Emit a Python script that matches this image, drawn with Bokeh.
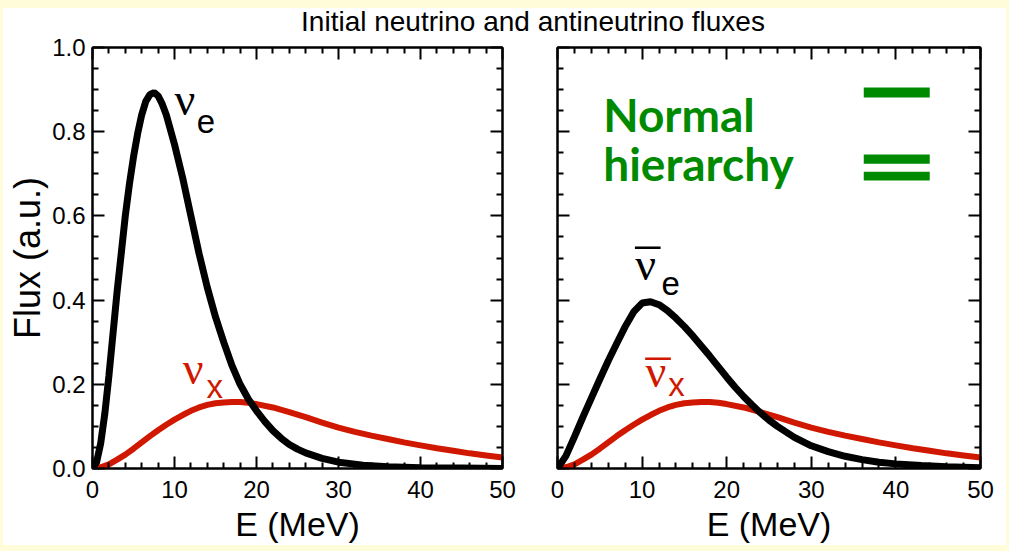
from bokeh.plotting import figure
from bokeh.models import LinearAxis, Range1d, Label, Div, FixedTicker, BoxAnnotation
from bokeh.layouts import row, column
from bokeh.embed import file_html
from bokeh.resources import INLINE

# ---------------- data ----------------
energy_nue = [0, 0.5, 1, 1.5, 2, 2.5, 3, 3.5, 4, 4.5, 5, 5.5, 6, 6.5, 7, 7.5, 8, 8.5, 9, 10, 11, 12, 13,
              14, 15, 16, 17, 18, 19, 20, 21, 22, 23, 24, 25, 26, 28, 30, 33, 36, 40, 45, 50]
flux_nue = [0, 0.015, 0.06, 0.13, 0.22, 0.32, 0.42, 0.51, 0.60, 0.675, 0.74, 0.795, 0.84, 0.872, 0.888, 0.893,
            0.885, 0.866, 0.84, 0.77, 0.69, 0.60, 0.51, 0.43, 0.36, 0.30, 0.245, 0.20, 0.165, 0.137, 0.112,
            0.09, 0.072, 0.057, 0.046, 0.037, 0.024, 0.015, 0.008, 0.004, 0.002, 0.001, 0.0]

energy_nux = [0, 1, 2, 3, 4, 5, 6, 7, 8, 9, 10, 11, 12, 13, 14, 15, 16, 17, 18, 19, 20, 22, 24, 26, 28,
              30, 32, 34, 36, 38, 40, 42, 44, 46, 48, 50]
flux_nux = [0, 0.003, 0.01, 0.021, 0.033, 0.047, 0.062, 0.077, 0.091, 0.104, 0.116, 0.127, 0.137, 0.145,
            0.151, 0.155, 0.157, 0.158, 0.158, 0.156, 0.153, 0.145, 0.134, 0.122, 0.109, 0.097, 0.087,
            0.078, 0.070, 0.062, 0.055, 0.048, 0.042, 0.036, 0.031, 0.026]

energy_nuebar = [0, 1, 2, 3, 4, 5, 6, 7, 8, 9, 10, 11, 12, 13, 14, 15, 16, 17, 18, 19, 20, 21, 22, 23,
                 24, 25, 26, 28, 30, 32, 34, 36, 38, 40, 43, 46, 50]
flux_nuebar = [0, 0.03, 0.075, 0.122, 0.167, 0.212, 0.256, 0.297, 0.337, 0.372, 0.393, 0.396, 0.389, 0.375,
               0.357, 0.337, 0.315, 0.291, 0.267, 0.242, 0.217, 0.193, 0.171, 0.151, 0.132, 0.115, 0.1,
               0.074, 0.054, 0.04, 0.029, 0.021, 0.015, 0.011, 0.007, 0.004, 0.002]

x_ticks = [0, 10, 20, 30, 40, 50]
x_minor = [2, 4, 6, 8, 12, 14, 16, 18, 22, 24, 26, 28, 32, 34, 36, 38, 42, 44, 46, 48]
y_ticks = [0.0, 0.2, 0.4, 0.6, 0.8, 1.0]
y_minor = [0.05, 0.1, 0.15, 0.25, 0.3, 0.35, 0.45, 0.5, 0.55, 0.65, 0.7, 0.75, 0.85, 0.9, 0.95]
y_tick_labels = ["0.0", "0.2", "0.4", "0.6", "0.8", "1.0"]

title_text = "Initial neutrino and antineutrino fluxes"
x_label = "E (MeV)"
y_label = "Flux (a.u.)"
legend_lines = ["Normal", "hierarchy"]

BLACK = "#000000"
RED = "#D01800"
GREEN = "#008A00"
FRAME_YELLOW = "#FFFCDA"
SANS = "Liberation Sans"
SERIF = "Liberation Serif"
FIG_H = 517


def style_axis(ax, ticks, minor, labels=True, standoff=7):
    ax.ticker = FixedTicker(ticks=ticks, minor_ticks=minor)
    ax.major_tick_in = 12
    ax.major_tick_out = 0
    ax.minor_tick_in = 6
    ax.minor_tick_out = 0
    ax.major_tick_line_width = 2
    ax.minor_tick_line_width = 2
    ax.axis_line_width = 2
    ax.major_tick_line_color = BLACK
    ax.minor_tick_line_color = BLACK
    ax.axis_line_color = BLACK
    if labels:
        ax.major_label_text_font = SANS
        ax.major_label_text_font_size = "24px"
        ax.major_label_text_color = BLACK
        ax.major_label_standoff = standoff
    else:
        ax.major_label_text_font_size = "0px"
        ax.major_label_text_color = None
        ax.major_label_standoff = 0
    ax.axis_label_text_font = SANS
    ax.axis_label_text_font_style = "normal"
    ax.axis_label_text_color = BLACK


def make_panel(width, left, right, show_ylabels):
    p = figure(width=width, height=FIG_H, x_range=Range1d(0, 50), y_range=Range1d(0, 1),
               output_backend="svg", toolbar_location=None,
               min_border_left=left, min_border_right=right, min_border_top=19, min_border_bottom=77,
               x_axis_label=x_label)
    p.grid.visible = False
    p.outline_line_color = BLACK
    p.outline_line_width = 2
    p.background_fill_color = "white"
    p.border_fill_color = None
    style_axis(p.xaxis[0], x_ticks, x_minor, standoff=12)
    p.xaxis[0].axis_label_text_font_size = "34px"
    p.xaxis[0].axis_label_standoff = 4
    style_axis(p.yaxis[0], y_ticks, y_minor, labels=show_ylabels, standoff=7)
    if show_ylabels:
        p.yaxis[0].major_label_overrides = {t: s for t, s in zip(y_ticks, y_tick_labels)}
        p.yaxis[0].axis_label = y_label
        p.yaxis[0].axis_label_text_font_size = "36px"
        p.yaxis[0].axis_label_standoff = 1
    top = LinearAxis()
    style_axis(top, x_ticks, x_minor, labels=False)
    p.add_layout(top, "above")
    rgt = LinearAxis()
    style_axis(rgt, y_ticks, y_minor, labels=False)
    p.add_layout(rgt, "right")
    return p


def nu_label(p, x, y, sub_x, sub_y, sub, color, bar_y=None):
    p.add_layout(Label(x=x, y=y, text="ν", text_font=SERIF, text_font_size="46px",
                       text_color=color, text_baseline="alphabetic", text_align="left"))
    p.add_layout(Label(x=sub_x, y=sub_y, text=sub, text_font=SANS, text_font_size="33px",
                       text_color=color, text_baseline="alphabetic", text_align="left"))
    if bar_y is not None:
        p.add_layout(Label(x=x, y=bar_y, text="–", text_font=SERIF, text_font_size="50px",
                           text_color=color, text_baseline="alphabetic", text_align="left"))


# ---------------- left panel ----------------
p1 = make_panel(527, 89, 28, True)
p1.line(energy_nux, flux_nux, line_color=RED, line_width=6, line_cap="round")
p1.line(energy_nue, flux_nue, line_color=BLACK, line_width=7, line_cap="round")
nu_label(p1, 10.0, 0.877, 12.7, 0.825, "e", BLACK)
nu_label(p1, 11.0, 0.237, 13.9, 0.194, "x", RED)

# ---------------- right panel ----------------
p2 = make_panel(476, 27, 26, False)
p2.line(energy_nux, flux_nux, line_color=RED, line_width=6, line_cap="round")
p2.line(energy_nuebar, flux_nuebar, line_color=BLACK, line_width=7, line_cap="round")
nu_label(p2, 9.2, 0.484, 12.3, 0.44, "e", BLACK, bar_y=0.535)
nu_label(p2, 10.4, 0.23, 13.1, 0.2, "x", RED, bar_y=0.272)

legend_y = [0.84, 0.725]
for txt, yy in zip(legend_lines, legend_y):
    p2.add_layout(Label(x=5.4, y=yy, text=txt, text_font="Lato", text_font_style="bold",
                        text_font_size="46px", text_color=GREEN, text_baseline="alphabetic"))
# green hierarchy symbols (one bar, two bars)
for (b, t) in [(0.881, 0.905), (0.724, 0.746), (0.684, 0.705)]:
    p2.add_layout(BoxAnnotation(left=36.2, right=44.0, bottom=b, top=t, fill_color=GREEN,
                                fill_alpha=1.0, line_color=None))

title = Div(text=f'<div style="margin-left:230px;width:600px;text-align:center;white-space:nowrap;'
                 f'font-family:\'{SANS}\';font-size:28px;line-height:28px;color:black;">{title_text}</div>',
            width=1003, height=20, margin=0, styles={"overflow": "visible"})

layout = column(title, row(p1, p2),
                styles={"background-color": "white",
                        "border-style": "solid",
                        "border-color": FRAME_YELLOW,
                        "border-width": "8px 3px 6px 3px"})

open("out.html", "w").write(file_html(layout, INLINE))
